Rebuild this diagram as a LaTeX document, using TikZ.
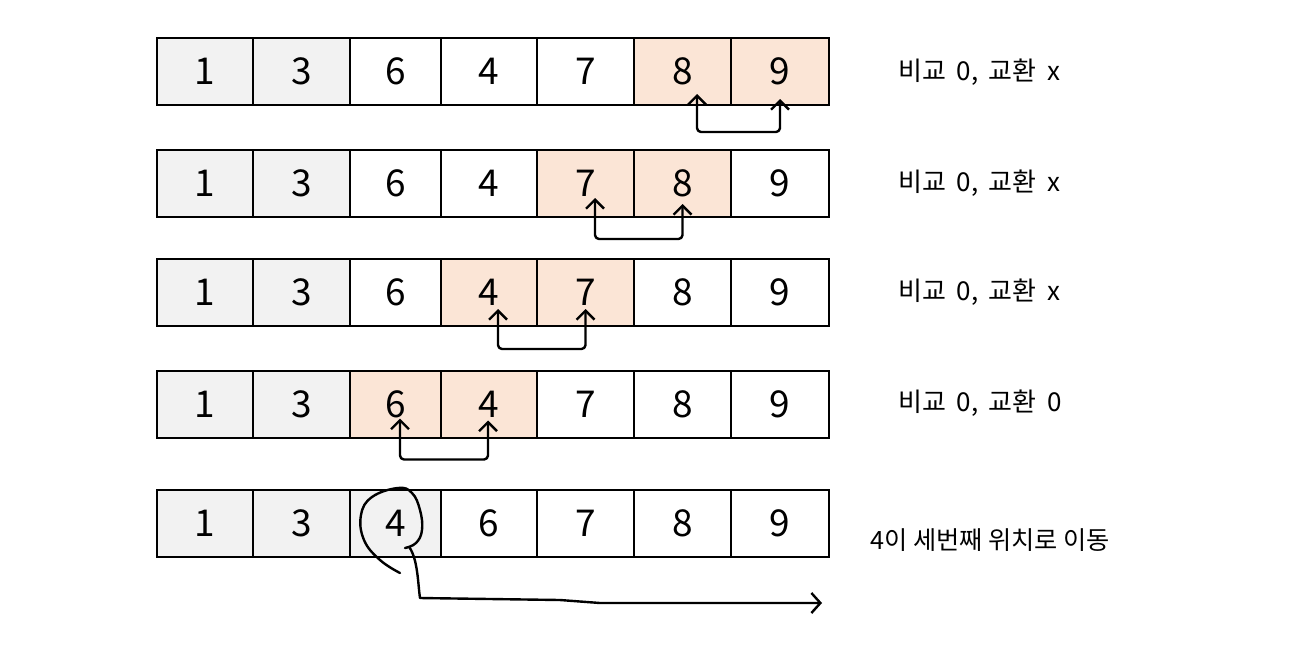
\documentclass[tikz,border=0pt]{standalone}
\usepackage{fontspec}
\setmainfont{Noto Sans CJK KR}
\newfontfamily\notefont[WordSpace=1.8]{Noto Sans CJK KR}
\usetikzlibrary{arrows.meta}
\definecolor{ink}{HTML}{000000}
\definecolor{done}{HTML}{F2F2F2}
\definecolor{pair}{HTML}{FBE5D6}

\begin{document}
\begin{tikzpicture}[x=0.5pt,y=-0.5pt,
  cell/.style={draw=ink,line width=1pt,minimum height=33.5pt,inner sep=0pt,
    font=\fontsize{18.5}{18.5}\selectfont},
  swap/.style={draw=ink,line width=1.2pt,line cap=round,line join=round,rounded corners=2pt,
    {Straight Barb[length=4.5pt,width=9pt]}-{Straight Barb[length=4.5pt,width=9pt]}},
  move/.style={draw=ink,line width=1.2pt,line cap=round,line join=round,
    -{Straight Barb[length=4.5pt,width=10pt]}},
  note/.style={anchor=west,inner sep=0pt,font=\notefont\fontsize{13}{13}\selectfont}]
  \path[use as bounding box] (0,0) rectangle (1304,653);
  % one row per bubble step; columns share fixed x positions
  \foreach \r/\yy/\vals in {
    1/71.5/{1/1/done,2/3/done,3/6/white,4/4/white,5/7/white,6/8/pair,7/9/pair},
    2/183.5/{1/1/done,2/3/done,3/6/white,4/4/white,5/7/pair,6/8/pair,7/9/white},
    3/292.5/{1/1/done,2/3/done,3/6/white,4/4/pair,5/7/pair,6/8/white,7/9/white},
    4/404/{1/1/done,2/3/done,3/6/pair,4/4/pair,5/7/white,6/8/white,7/9/white},
    5/523.5/{1/1/done,2/3/done,3/4/done,4/6/white,5/7/white,6/8/white,7/9/white}}{
    \foreach \c/\n/\f in \vals{
      \pgfmathsetmacro{\xx}{{205,301.5,395.5,489,585.5,682.5,780}[\c-1]}
      \pgfmathsetmacro{\ww}{{48,48.5,45.5,48,48.5,48.5,49}[\c-1]}
      \node[cell,fill=\f,minimum width=\ww pt] (r\r c\c) at (\xx,\yy) {\n};
    }
  }

  % step notes
  \node[note] (s1) at (898,72) {비교 0, 교환 x};
  \node[note] (s2) at (898,183) {비교 0, 교환 x};
  \node[note] (s3) at (898,292) {비교 0, 교환 x};
  \node[note] (s4) at (898,403) {비교 0, 교환 0};
  \node[note,font=\fontsize{12.6}{12.6}\selectfont] (s5) at (870,540) {4이 세번째 위치로 이동};

  % compared pairs
  \draw[swap] ([xshift=7.25pt,yshift=6pt]r1c6.south) -- ++(0,38) -| ([yshift=3.5pt]r1c7.south);
  \draw[swap] ([xshift=4.75pt,yshift=10pt]r2c5.south) -- ++(0,41) -| ([yshift=7pt]r2c6.south);
  \draw[swap] ([xshift=4.5pt,yshift=9pt]r3c4.south) -- ++(0,40) -| ([yshift=9pt]r3c5.south);
  \draw[swap] ([xshift=2.25pt,yshift=10pt]r4c3.south) -- ++(0,41) -| ([xshift=-0.5pt,yshift=9pt]r4c4.south);

  % 4 circled and moved
  \coordinate (dest) at (822,603);
  \draw[ink,line width=1.2pt,line cap=round] plot[smooth,tension=0.7] coordinates
    {(400,573) (380,560) (364,540) (361,515) (372,497) (398,488) (412,493) (420,510) (422,530) (416,543) (405,548)};
  \draw[move] ([xshift=7pt,yshift=-12pt]r5c3.center) .. controls (418,560) and (418,585) .. (420,598)
    -- (560,600) -- (600,603) -- (dest);
\end{tikzpicture}
\end{document}
